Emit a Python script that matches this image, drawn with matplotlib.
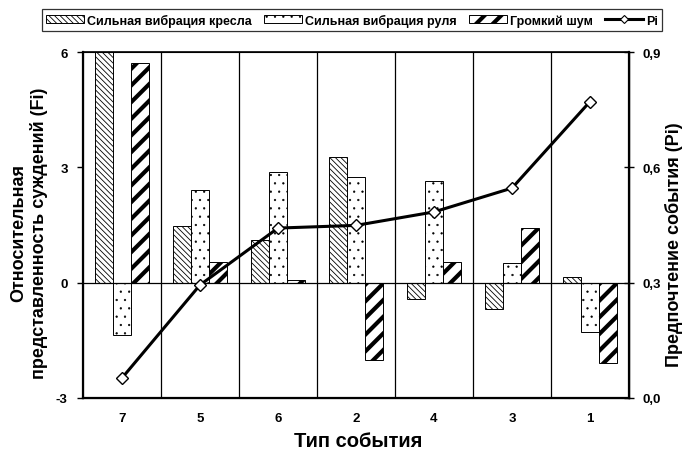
import matplotlib
matplotlib.use("Agg")
import matplotlib.pyplot as plt
from matplotlib.patches import Patch
from matplotlib.lines import Line2D
from matplotlib.ticker import FuncFormatter
import numpy as np

plt.rcParams['font.family'] = ['Liberation Sans', 'DejaVu Sans']
plt.rcParams['font.weight'] = 'bold'
plt.rcParams['axes.unicode_minus'] = False

categories = ['7', '5', '6', '2', '4', '3', '1']
seat_vibration = [6.0, 1.48, 1.12, 3.26, -0.43, -0.68, 0.15]
wheel_vibration = [-1.36, 2.42, 2.88, 2.74, 2.65, 0.50, -1.28]
loud_noise = [5.72, 0.55, 0.07, -2.02, 0.55, 1.41, -2.09]
pi_values = [0.052, 0.294, 0.442, 0.449, 0.484, 0.546, 0.771]

series_names = ['Сильная вибрация кресла', 'Сильная вибрация руля', 'Громкий шум', 'Pi']

BS = chr(92)
HATCH1 = BS * 6
HATCH2 = '..'
HATCH3 = '//'
HLW = (0.6, 0.4, 3.0)

W, H = 685, 460
fig = plt.figure(figsize=(W / 100, H / 100), dpi=100)
ax = fig.add_axes([83 / W, 1 - 399 / H, (629 - 83) / W, (399 - 53) / H])

x = np.arange(len(categories))
bw = 0.227

b1 = ax.bar(x - bw, seat_vibration, bw, facecolor='white', edgecolor='black',
            linewidth=0.7, hatch=HATCH1, zorder=2)
b2 = ax.bar(x, wheel_vibration, bw, facecolor='white', edgecolor='black',
            linewidth=0.7, hatch=HATCH2, zorder=2)
b3 = ax.bar(x + bw, loud_noise, bw, facecolor='white', edgecolor='black',
            linewidth=0.7, hatch=HATCH3, zorder=2)


def set_hlw(patches, lw):
    for p in patches:
        if hasattr(p, 'set_hatch_linewidth'):
            p.set_hatch_linewidth(lw)


set_hlw(b1, HLW[0])
set_hlw(b2, HLW[1])
set_hlw(b3, HLW[2])

ax.set_xlim(-0.5, len(categories) - 0.5)
ax.set_ylim(-3, 6)
ax.set_yticks([-3, 0, 3, 6])
ax.set_xticks(x)
ax.set_xticklabels(categories)
ax.tick_params(axis='x', length=0, pad=10, labelsize=9.5)
ax.tick_params(axis='y', direction='out', length=4, width=1, pad=7, labelsize=9.5)

for b in np.arange(0.5, len(categories) - 0.5, 1.0):
    ax.axvline(b, color='black', linewidth=0.9, zorder=1)
ax.axhline(0, color='black', linewidth=0.9, zorder=3)

for s in ax.spines.values():
    s.set_linewidth(1.0)
ax.spines['left'].set_linewidth(1.6)
ax.spines['bottom'].set_linewidth(1.6)
ax.spines['top'].set_linewidth(1.2)

ax2 = ax.twinx()
ax2.set_ylim(0, 0.9)
ax2.set_yticks([0.0, 0.3, 0.6, 0.9])
ax2.yaxis.set_major_formatter(FuncFormatter(lambda v, p: f"{v:.1f}".replace('.', ',')))
ax2.tick_params(axis='y', direction='inout', length=7, width=1, pad=6, labelsize=9.5)
ax2.spines['right'].set_linewidth(1.6)
ax2.plot(x, pi_values, color='black', linewidth=2.2, marker='D', markersize=6.5,
         markerfacecolor='white', markeredgecolor='black', markeredgewidth=1.0, zorder=5)

for t in ax.get_xticklabels() + ax.get_yticklabels() + ax2.get_yticklabels():
    t.set_fontweight('bold')

fig.text(29 / W, 1 - 233 / H, 'Относительная\nпредставленность суждений (Fi)',
         rotation=90, ha='center', va='center', multialignment='center',
         fontsize=13, fontweight='bold', linespacing=1.2)
fig.text(674 / W, 1 - 245 / H, 'Предпочтение события (Pi)', rotation=90,
         ha='center', va='center', fontsize=13, fontweight='bold')
fig.text(358 / W, 1 - 442 / H, 'Тип события', ha='center', va='center',
         fontsize=14.5, fontweight='bold')

h1 = Patch(facecolor='white', edgecolor='black', linewidth=0.7, hatch=HATCH1)
h2 = Patch(facecolor='white', edgecolor='black', linewidth=0.7, hatch=HATCH2)
h3 = Patch(facecolor='white', edgecolor='black', linewidth=0.7, hatch=HATCH3)
h4 = Line2D([], [], color='black', linewidth=2.2, marker='D', markersize=4.5,
            markerfacecolor='white', markeredgecolor='black', markeredgewidth=0.8)

leg = fig.legend([h1, h2, h3, h4], series_names, loc='center',
                 bbox_to_anchor=(352 / W, 1 - 21 / H), ncol=4,
                 prop={'size': 9, 'weight': 'bold'}, frameon=True,
                 fancybox=False, edgecolor='black', handlelength=3.0,
                 handleheight=0.6, handletextpad=0.25, columnspacing=1.0,
                 borderpad=0.35, borderaxespad=0)
leg.get_frame().set_linewidth(0.9)
handles = leg.legend_handles
for hp, lw in zip(handles[:3], HLW):
    set_hlw([hp], lw)

fig.savefig('out.png', dpi=100)
